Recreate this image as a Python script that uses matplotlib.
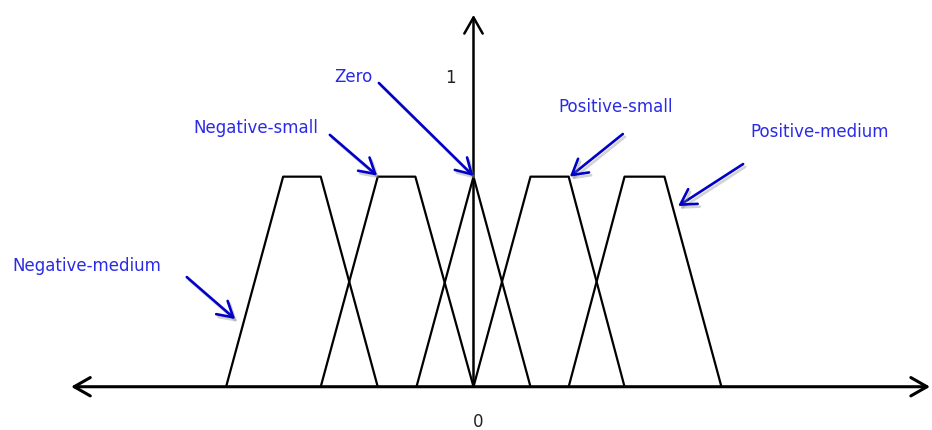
import matplotlib.pyplot as plt
import matplotlib.patheffects as pe

# membership function breakpoints (x) and grades (y)
nm_x = [-4.34, -3.34, -2.68, -1.68]
ns_x = [-2.68, -1.68, -1.02, 0.0]
zero_x = [-1.0, 0.0, 1.0]
ps_x = [0.0, 1.0, 1.67, 2.65]
pm_x = [1.67, 2.65, 3.35, 4.35]
trap_y = [0, 1, 1, 0]
tri_y = [0, 1, 0]

labels = ["Negative-medium", "Negative-small", "Zero", "Positive-small", "Positive-medium"]
# label text centre, arrow start, arrow tip (data units)
label_pos = [(-6.78, 0.575), (-3.82, 1.232), (-2.10, 1.474), (2.50, 1.332), (6.08, 1.213)]
arrow_from = [(-5.03, 0.522), (-2.52, 1.199), (-1.66, 1.446), (2.62, 1.203), (4.73, 1.06)]
arrow_to = [(-4.18, 0.322), (-1.69, 1.005), (0.0, 1.003), (1.69, 1.0), (3.59, 0.86)]

fig = plt.figure(figsize=(9.32, 4.30), dpi=100)
ax = fig.add_axes([0, 0, 1, 1])
ax.set_xlim(-8.307, 8.044)
ax.set_ylim(-0.206, 1.841)
ax.axis('off')

lw = 1.6
ax.plot(nm_x, trap_y, color='black', lw=lw)
ax.plot(ns_x, trap_y, color='black', lw=lw)
ax.plot(zero_x, tri_y, color='black', lw=lw)
ax.plot(ps_x, trap_y, color='black', lw=lw)
ax.plot(pm_x, trap_y, color='black', lw=lw)

# axes with open arrow heads
ax.annotate('', xy=(8.01, 0), xytext=(-7.06, 0),
            arrowprops=dict(arrowstyle='<->, head_length=0.58, head_width=0.33',
                            color='black', lw=2.2, mutation_scale=20,
                            shrinkA=0, shrinkB=0))
ax.annotate('', xy=(0, 1.77), xytext=(0, 0),
            arrowprops=dict(arrowstyle='->, head_length=0.58, head_width=0.33',
                            color='black', lw=1.8, mutation_scale=20,
                            shrinkA=0, shrinkB=0))

ax.text(-0.41, 1.47, "1", ha='center', va='center', fontsize=12, color='#222222')
ax.text(0.08, -0.168, "0", ha='center', va='center', fontsize=12, color='#222222')

shadow = [pe.SimpleLineShadow(offset=(1.5, -2), shadow_color='gray', alpha=0.35), pe.Normal()]
for lab, tp, a0, a1 in zip(labels, label_pos, arrow_from, arrow_to):
    ax.text(tp[0], tp[1], lab, ha='center', va='center', fontsize=12, color='#2b2be6')
    ax.annotate('', xy=a1, xytext=a0,
                arrowprops=dict(arrowstyle='->, head_length=0.6, head_width=0.35',
                                color='#0000c8', lw=1.9, mutation_scale=18,
                                shrinkA=0, shrinkB=0, path_effects=shadow))

fig.savefig('out.png', dpi=100)
